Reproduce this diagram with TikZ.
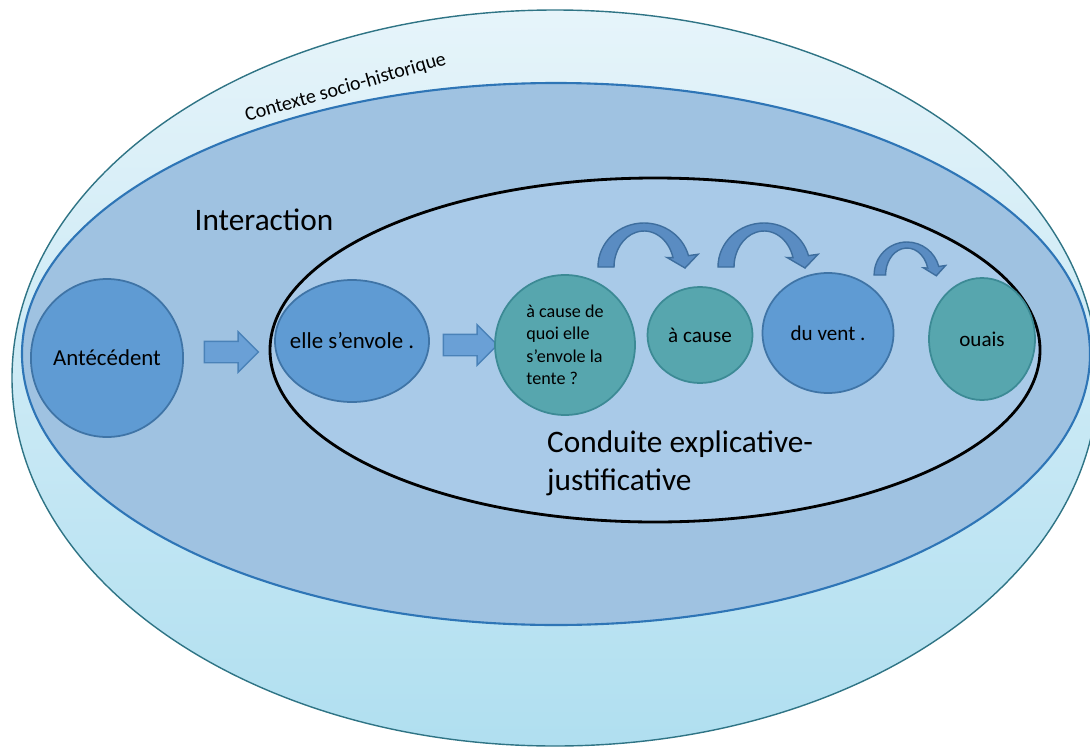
\documentclass[tikz,border=0pt]{standalone}
\usepackage{fontspec}
\setmainfont{Carlito}
\usetikzlibrary{shapes,arrows,positioning,calc,arrows.meta}

\definecolor{ctxtop}{HTML}{E6F4FA}
\definecolor{ctxbot}{HTML}{B0DFF0}
\definecolor{ctxline}{HTML}{2F7485}
\definecolor{interfill}{HTML}{9FC2E1}
\definecolor{interline}{HTML}{2E75B6}
\definecolor{condfill}{HTML}{A9CAE8}
\definecolor{discblue}{HTML}{5F9BD3}
\definecolor{discblueline}{HTML}{3F74A6}
\definecolor{discteal}{HTML}{57A6AE}
\definecolor{disctealline}{HTML}{3C8A95}
\definecolor{arrfill}{HTML}{6AA0D6}
\definecolor{arrline}{HTML}{4A82B8}
\definecolor{bendfill}{HTML}{5A8CC2}
\definecolor{bendline}{HTML}{3E6E9E}

\newcommand\fsbig{\fontsize{17.8}{21.5}\selectfont}
\newcommand\fsdisc{\fontsize{13}{15.6}\selectfont}
\newcommand\fsmid{\fontsize{12}{14.4}\selectfont}
\newcommand\fssmall{\fontsize{10.3}{12.8}\selectfont}
\newcommand\fsctx{\fontsize{11.4}{13.7}\selectfont}

\tikzset{
    bluedisc/.style={ellipse, draw=discblueline, fill=discblue, line width=1pt, inner sep=0pt, font=\fsdisc},
    tealdisc/.style={ellipse, draw=disctealline, fill=discteal, line width=1pt, inner sep=0pt, font=\fsmid},
    blockarr/.style={single arrow, draw=arrline, fill=arrfill, line width=0.8pt, inner sep=0pt,
        text height=0.4cm, text depth=0pt, minimum height=1.08cm,
        single arrow head extend=0.19cm, single arrow head indent=0pt},
    bendarrow/.pic={
        \filldraw[fill=bendfill, draw=bendline, line width=0.8pt]
            (-46,0) arc[start angle=180, end angle=15, x radius=46, y radius=44]
            -- (54,12.7) -- (41,-1) -- (23,9.5) -- (29,9.3)
            arc[start angle=15, end angle=180, x radius=30, y radius=36] -- cycle;
    }
}

\begin{document}
\begin{tikzpicture}
    \useasboundingbox (0,0) rectangle (21.8,-14.98);
    % contexte socio-historique
    \shade[top color=ctxtop, bottom color=ctxbot] (11.1,-7.56) ellipse [x radius=10.86, y radius=7.36];
    \draw[ctxline, line width=0.8pt] (11.1,-7.56) ellipse [x radius=10.86, y radius=7.36];
    \node[rotate=16, font=\fsctx, anchor=base] (ctx) at (6.94,-1.86) {Contexte socio-historique};
    % interaction
    \draw[interline, fill=interfill, line width=1.2pt] (11.12,-7.08) ellipse [x radius=10.68, y radius=5.42];
    \node[font=\fsbig, anchor=base] (inter) at (5.28,-4.6) {Interaction};
    % conduite explicative-justificative
    \draw[black, fill=condfill, line width=1.6pt] (13.1,-7.0) ellipse [x radius=7.7, y radius=3.44];
    \node[font=\fsbig, align=left, anchor=base west] (cond) at (10.82,-9.8) {Conduite explicative-\\justificative};

    \node[bluedisc, minimum width=3.04cm, minimum height=3.16cm] (ante) at (2.14,-7.16) {Antécédent};
    \node[blockarr] (ar1) at (4.52,-7.04) {};
    \node[bluedisc, minimum width=3.08cm, minimum height=2.44cm] (envole) at (7.04,-6.82) {\makebox[2cm]{elle s’envole .}};
    \node[blockarr] (ar2) at (9.3,-6.9) {};
    \node[tealdisc, minimum size=2.8cm, align=left, font=\fssmall] (quoi) at (11.3,-6.9) {à cause de\\quoi elle\\s’envole la\\tente ?};
    \node[tealdisc, minimum width=2.1cm, minimum height=1.92cm] (cause) at (14.0,-6.7) {à cause};
    \node[bluedisc, minimum width=2.62cm, minimum height=2.4cm, font=\fsmid] (vent) at (16.56,-6.66) {du vent .};
    \node[tealdisc, minimum width=2.12cm, minimum height=2.44cm] (ouais) at (19.64,-6.78) {ouais};

    % curved arrows
    \pic[scale=0.02] at (12.88,-5.34) {bendarrow};
    \pic[scale=0.02] at (15.28,-5.34) {bendarrow};
    \pic[xscale=0.0143, yscale=0.015] at (18.14,-5.5) {bendarrow};
\end{tikzpicture}
\end{document}
